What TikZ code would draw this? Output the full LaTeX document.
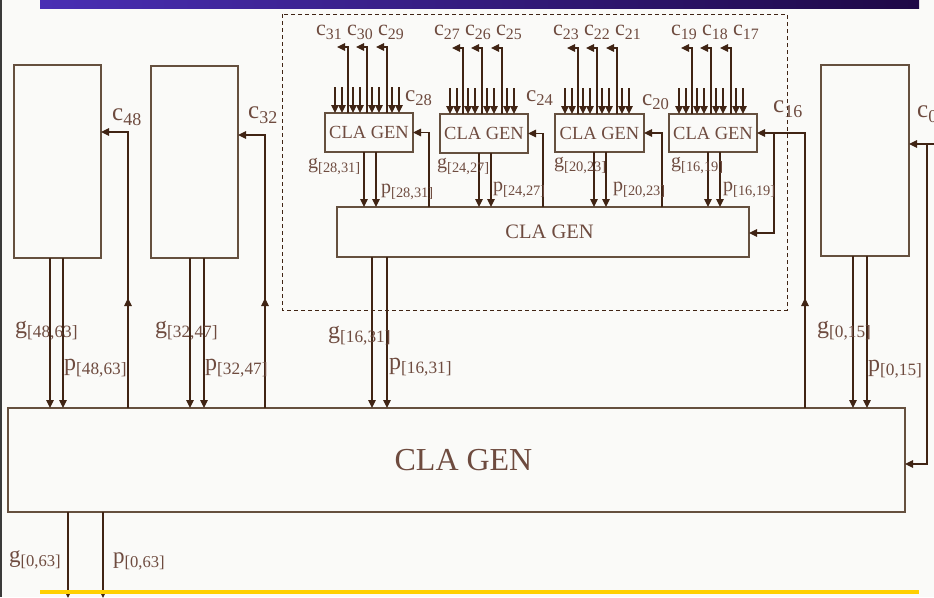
\documentclass[tikz,border=0pt]{standalone}
\usepackage{fontspec}
\usepackage{graphicx}
\setmainfont{Liberation Serif}
\usetikzlibrary{arrows.meta,calc}
\definecolor{bg}{HTML}{FAFAF8}
\definecolor{ln}{HTML}{402414}
\definecolor{bx}{HTML}{65503F}
\definecolor{tx}{HTML}{6E4B3F}
\definecolor{edgec}{HTML}{3A3A3A}
\definecolor{barL}{HTML}{4A2FB4}
\definecolor{barR}{HTML}{1E0846}
\definecolor{barY}{HTML}{FFD000}
\newcommand{\ssub}[2]{#1\raisebox{-0.2em}{\scalebox{0.72}{#2}}}
\begin{document}
\begin{tikzpicture}[x=1pt,y=-1pt,
  box/.style={draw=bx, line width=1.2pt, fill=bg, inner sep=0pt, outer sep=0pt, anchor=north west, text=tx},
  arr/.style={draw=ln, line width=1.1pt, -{Triangle[width=7.5pt,length=8pt]}},
  lab/.style={text=tx, inner sep=0pt, anchor=base west},
  labc/.style={text=tx, inner sep=0pt, anchor=base}]
\fill[bg] (0,0) rectangle (934,597);
\useasboundingbox (0,0) rectangle (934,597);
\fill[edgec] (0,0) rectangle (2,597);
\shade[left color=barL, right color=barR] (40,0) rectangle (919,8);

% dashed group
\draw[ln, line width=1pt, dashed, dash pattern=on 4pt off 3pt] (282,14) rectangle (787,310);

% boxes
\node[box, minimum width=87pt, minimum height=193pt] (L1) at (14,65) {};
\node[box, minimum width=87pt, minimum height=192pt] (L2) at (151,66) {};
\node[box, minimum width=88pt, minimum height=191pt] (R) at (821,65) {};
\node[box, minimum width=897pt, minimum height=104pt, font=\fontsize{32}{36}\selectfont] (Big) at (8,408) {\hspace*{14pt}CLA GEN};
\node[box, minimum width=412pt, minimum height=50pt, font=\fontsize{20.5}{24}\selectfont] (Mid) at (337,207) {\hspace*{13pt}CLA GEN};
\node[box, minimum width=88pt, minimum height=39pt, font=\fontsize{18.5}{22}\selectfont] (S1) at (325,113) {CLA GEN};
\node[box, minimum width=88pt, minimum height=39pt, font=\fontsize{18.5}{22}\selectfont] (S2) at (440,114) {CLA GEN};
\node[box, minimum width=89pt, minimum height=38pt, font=\fontsize{18.5}{22}\selectfont] (S3) at (555,114) {CLA GEN};
\node[box, minimum width=88pt, minimum height=38pt, font=\fontsize{18.5}{22}\selectfont] (S4) at (669,114) {CLA GEN};

% small box inputs, carries out, g/p
\foreach \s in {S1,S2,S3,S4} {
  \foreach \o in {10,17,28,35,47,54,67,74}
    \draw[arr] ($(\s.north west)+(\o,-26)$) -- ($(\s.north west)+(\o,0)$);
  \foreach \o in {23,42,62}
    \draw[arr] ($(\s.north west)+(\o,0)$) |- ($(\s.north west)+(\o-11,-66)$);
  \coordinate (gq) at ($(\s.south west)+(39,0)$);
  \draw[arr] (gq) -- (gq |- Mid.north);
  \coordinate (pq) at ($(\s.south west)+(51,0)$);
  \draw[arr] (pq) -- (pq |- Mid.north);
}

% carries from Mid into small boxes
\coordinate (k1) at ($(Mid.north west)+(92,0)$);
\draw[arr] (k1) |- (S1.east);
\coordinate (k2) at ($(Mid.north west)+(206,0)$);
\draw[arr] (k2) |- (S2.east);
\coordinate (k3) at ($(Mid.north west)+(325,0)$);
\draw[arr] (k3) |- (S3.east);

% c16
\coordinate (k16) at ($(Big.north west)+(797,0)$);
\draw[arr] (k16) |- ($(S4.north east)+(0,19)$);
\draw[arr] (k16) -- ++(0,-110);
\draw[arr] ($(S4.north east)+(17,19)$) |- ($(Mid.north east)+(0,26)$);

% c48, c32
\coordinate (k48) at ($(Big.north west)+(120,0)$);
\draw[arr] (k48) |- ($(L1.north east)+(0,67)$);
\draw[arr] (k48) -- ++(0,-110);
\coordinate (k32) at ($(Big.north west)+(257,0)$);
\draw[arr] (k32) |- ($(L2.north east)+(0,69)$);
\draw[arr] (k32) -- ++(0,-110);

% c0
\coordinate (k0) at ($(R.north east)+(18,79)$);
\draw[arr] ($(R.north east)+(30,79)$) -- ($(R.north east)+(0,79)$);
\draw[arr] (k0) |- ($(Big.north east)+(0,56)$);

% g/p into Big
\coordinate (a1) at ($(L1.south west)+(36,0)$); \draw[arr] (a1) -- (a1 |- Big.north);
\coordinate (a2) at ($(L1.south west)+(49,0)$); \draw[arr] (a2) -- (a2 |- Big.north);
\coordinate (a3) at ($(L2.south west)+(39,0)$); \draw[arr] (a3) -- (a3 |- Big.north);
\coordinate (a4) at ($(L2.south west)+(53,0)$); \draw[arr] (a4) -- (a4 |- Big.north);
\coordinate (a5) at ($(Mid.south west)+(35,0)$); \draw[arr] (a5) -- (a5 |- Big.north);
\coordinate (a6) at ($(Mid.south west)+(50,0)$); \draw[arr] (a6) -- (a6 |- Big.north);
\coordinate (a7) at ($(R.south west)+(32,0)$); \draw[arr] (a7) -- (a7 |- Big.north);
\coordinate (a8) at ($(R.south west)+(46,0)$); \draw[arr] (a8) -- (a8 |- Big.north);

% outputs
\coordinate (o1) at ($(Big.south west)+(60,0)$); \draw[arr] (o1) -- ++(0,86);
\coordinate (o2) at ($(Big.south west)+(95,0)$); \draw[arr] (o2) -- ++(0,86);
\fill[barY] (40,590) rectangle (919,594);

% top carry labels
\begin{scope}[every node/.style={labc, font=\fontsize{22}{24}\selectfont}]
\node (t31) at (329,35) {\ssub{c}{31}};
\node (t30) at (360,35) {\ssub{c}{30}};
\node (t29) at (391,35) {\ssub{c}{29}};
\node (t27) at (447,35) {\ssub{c}{27}};
\node (t26) at (478,35) {\ssub{c}{26}};
\node (t25) at (509,35) {\ssub{c}{25}};
\node (t23) at (566,35) {\ssub{c}{23}};
\node (t22) at (597,35) {\ssub{c}{22}};
\node (t21) at (628,35) {\ssub{c}{21}};
\node (t19) at (684,35) {\ssub{c}{19}};
\node (t18) at (715,35) {\ssub{c}{18}};
\node (t17) at (746,35) {\ssub{c}{17}};
\end{scope}
\begin{scope}[every node/.style={lab, font=\fontsize{23}{25}\selectfont}]
\node (t28) at (405,101) {\ssub{c}{28}};
\node (t24) at (526,101) {\ssub{c}{24}};
\node (t20) at (642,105) {\ssub{c}{20}};
\end{scope}
\begin{scope}[every node/.style={lab, font=\fontsize{25}{27}\selectfont}]
\node (t16) at (773,112) {\ssub{c}{16}};
\node (t48) at (112,120) {\ssub{c}{48}};
\node (t32) at (248,118) {\ssub{c}{32}};
\node (t0) at (917,117) {\ssub{c}{0}};
\end{scope}
% small g/p labels
\begin{scope}[every node/.style={lab, font=\fontsize{20}{22}\selectfont}]
\node (lg1) at (308,168) {\ssub{g}{[28,31]}};
\node (lp1) at (381,193) {\ssub{p}{[28,31]}};
\node (lg2) at (437,168) {\ssub{g}{[24,27]}};
\node (lp2) at (493,191) {\ssub{p}{[24,27]}};
\node (lg3) at (554,167) {\ssub{g}{[20,23]}};
\node (lp3) at (613,191) {\ssub{p}{[20,23]}};
\node (lg4) at (671,167) {\ssub{g}{[16,19]}};
\node (lp4) at (723,191) {\ssub{p}{[16,19]}};
\end{scope}
% big g/p labels
\begin{scope}[every node/.style={lab, font=\fontsize{24}{26}\selectfont}]
\node (bg1) at (15,333) {\ssub{g}{[48,63]}};
\node (bp1) at (64,370) {\ssub{p}{[48,63]}};
\node (bg2) at (155,333) {\ssub{g}{[32,47]}};
\node (bp2) at (205,370) {\ssub{p}{[32,47]}};
\node (bg3) at (328,338) {\ssub{g}{[16,31]}};
\node (bp3) at (389,369) {\ssub{p}{[16,31]}};
\node (bg4) at (817,333) {\ssub{g}{[0,15]}};
\node (bp4) at (868,371) {\ssub{p}{[0,15]}};
\end{scope}
\begin{scope}[every node/.style={lab, font=\fontsize{23}{25}\selectfont}]
\node (og) at (9,562) {\ssub{g}{[0,63]}};
\node (op) at (113,563) {\ssub{p}{[0,63]}};
\end{scope}
\end{tikzpicture}
\end{document}
